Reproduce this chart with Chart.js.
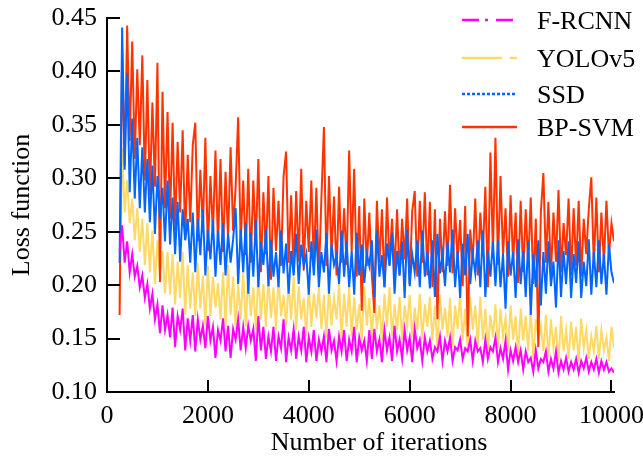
<!DOCTYPE html>
<html lang="en">
<head>
<meta charset="UTF-8">
<title>Loss function vs iterations</title>
<script src="https://cdn.jsdelivr.net/npm/chart.js"></script>
<style>
    html, body { margin: 0; padding: 0; background: #fff; }
    #wrap { position: relative; width: 643px; height: 461px; }
</style>
</head>
<body>
<div id="wrap"><canvas id="lossChart"></canvas></div>
<script>
// Sampling grid of the curves (iterations): 250 .. 10050 every 50
const iterStart = 250;
const iterStep = 50;
const iterCount = 197;
const iterations = Array.from({ length: iterCount }, (_, i) => iterStart + i * iterStep);

const seriesNames = ['F-RCNN', 'YOLOv5', 'SSD', 'BP-SVM'];
const xTicks = [0, 2000, 4000, 6000, 8000, 10000];
const yTicks = [0.10, 0.15, 0.20, 0.25, 0.30, 0.35, 0.40, 0.45];
const xTitle = 'Number of iterations';
const yTitle = 'Loss function';

const frcnn = [
    0.232, 0.256, 0.221, 0.241, 0.212, 0.229, 0.208, 0.218, 0.198, 0.209,
    0.188, 0.201, 0.178, 0.192, 0.168, 0.182, 0.155, 0.181, 0.158, 0.172,
    0.151, 0.179, 0.142, 0.171, 0.158, 0.178, 0.139, 0.169, 0.148, 0.172,
    0.138, 0.168, 0.149, 0.162, 0.141, 0.171, 0.148, 0.161, 0.132, 0.158,
    0.148, 0.169, 0.138, 0.162, 0.132, 0.159, 0.149, 0.168, 0.139, 0.161,
    0.141, 0.162, 0.148, 0.159, 0.129, 0.171, 0.139, 0.161, 0.131, 0.152,
    0.138, 0.161, 0.129, 0.152, 0.141, 0.168, 0.128, 0.151, 0.139, 0.159,
    0.131, 0.152, 0.139, 0.161, 0.128, 0.151, 0.138, 0.158, 0.129, 0.149,
    0.138, 0.152, 0.128, 0.159, 0.139, 0.148, 0.129, 0.152, 0.138, 0.158,
    0.129, 0.149, 0.138, 0.161, 0.128, 0.151, 0.139, 0.148, 0.129, 0.158,
    0.131, 0.159, 0.138, 0.149, 0.128, 0.158, 0.139, 0.151, 0.129, 0.162,
    0.138, 0.149, 0.131, 0.158, 0.139, 0.151, 0.128, 0.159, 0.141, 0.149,
    0.129, 0.151, 0.138, 0.148, 0.131, 0.142, 0.138, 0.152, 0.129, 0.148,
    0.138, 0.151, 0.129, 0.142, 0.139, 0.149, 0.131, 0.141, 0.138, 0.149,
    0.129, 0.148, 0.138, 0.141, 0.128, 0.149, 0.131, 0.142, 0.138, 0.151,
    0.128, 0.141, 0.131, 0.148, 0.121, 0.139, 0.129, 0.142, 0.128, 0.139,
    0.121, 0.138, 0.128, 0.132, 0.119, 0.139, 0.122, 0.131, 0.128, 0.138,
    0.119, 0.131, 0.122, 0.138, 0.118, 0.129, 0.121, 0.132, 0.119, 0.128,
    0.121, 0.131, 0.118, 0.129, 0.122, 0.132, 0.119, 0.128, 0.121, 0.131,
    0.118, 0.129, 0.121, 0.128, 0.119, 0.122, 0.118
];

const yolov5 = [
    0.182, 0.328, 0.268, 0.298, 0.258, 0.281, 0.242, 0.272, 0.231, 0.262,
    0.219, 0.258, 0.212, 0.251, 0.201, 0.242, 0.209, 0.232, 0.192, 0.231,
    0.191, 0.229, 0.182, 0.222, 0.188, 0.231, 0.172, 0.219, 0.178, 0.212,
    0.171, 0.221, 0.178, 0.209, 0.162, 0.218, 0.171, 0.208, 0.179, 0.202,
    0.168, 0.212, 0.161, 0.219, 0.172, 0.208, 0.159, 0.201, 0.168, 0.211,
    0.161, 0.209, 0.171, 0.198, 0.158, 0.212, 0.168, 0.201, 0.161, 0.208,
    0.169, 0.198, 0.158, 0.209, 0.171, 0.191, 0.162, 0.202, 0.168, 0.208,
    0.158, 0.199, 0.168, 0.188, 0.152, 0.201, 0.161, 0.192, 0.169, 0.198,
    0.159, 0.191, 0.151, 0.199, 0.162, 0.188, 0.168, 0.201, 0.149, 0.192,
    0.161, 0.198, 0.152, 0.189, 0.158, 0.182, 0.148, 0.199, 0.162, 0.188,
    0.151, 0.191, 0.159, 0.181, 0.148, 0.192, 0.161, 0.198, 0.152, 0.182,
    0.158, 0.189, 0.149, 0.181, 0.162, 0.191, 0.151, 0.179, 0.158, 0.192,
    0.149, 0.182, 0.161, 0.189, 0.148, 0.181, 0.141, 0.191, 0.158, 0.179,
    0.151, 0.188, 0.142, 0.181, 0.159, 0.192, 0.148, 0.178, 0.141, 0.189,
    0.158, 0.181, 0.142, 0.189, 0.149, 0.178, 0.139, 0.172, 0.151, 0.182,
    0.141, 0.178, 0.152, 0.169, 0.138, 0.181, 0.149, 0.171, 0.132, 0.178,
    0.148, 0.171, 0.139, 0.178, 0.131, 0.168, 0.149, 0.162, 0.138, 0.172,
    0.132, 0.168, 0.141, 0.161, 0.129, 0.171, 0.138, 0.158, 0.131, 0.166,
    0.139, 0.161, 0.128, 0.169, 0.141, 0.158, 0.131, 0.152, 0.138, 0.162,
    0.131, 0.158, 0.139, 0.151, 0.129, 0.161, 0.141
];

const ssd = [
    0.221, 0.441, 0.308, 0.398, 0.287, 0.356, 0.281, 0.338, 0.272, 0.329,
    0.268, 0.318, 0.259, 0.312, 0.248, 0.302, 0.262, 0.291, 0.241, 0.298,
    0.238, 0.282, 0.229, 0.278, 0.222, 0.271, 0.242, 0.262, 0.221, 0.268,
    0.212, 0.262, 0.228, 0.271, 0.209, 0.252, 0.224, 0.261, 0.208, 0.251,
    0.219, 0.258, 0.209, 0.248, 0.221, 0.243, 0.272, 0.201, 0.252, 0.212,
    0.258, 0.192, 0.249, 0.208, 0.261, 0.198, 0.241, 0.219, 0.252, 0.199,
    0.242, 0.208, 0.231, 0.198, 0.251, 0.211, 0.239, 0.192, 0.232, 0.209,
    0.248, 0.201, 0.238, 0.218, 0.229, 0.191, 0.241, 0.209, 0.252, 0.198,
    0.231, 0.212, 0.249, 0.192, 0.238, 0.219, 0.228, 0.201, 0.251, 0.208,
    0.241, 0.198, 0.232, 0.191, 0.249, 0.209, 0.238, 0.202, 0.229, 0.218,
    0.242, 0.189, 0.251, 0.208, 0.228, 0.198, 0.239, 0.218, 0.249, 0.192,
    0.232, 0.209, 0.241, 0.188, 0.252, 0.199, 0.229, 0.212, 0.242, 0.198,
    0.251, 0.208, 0.231, 0.197, 0.242, 0.189, 0.248, 0.211, 0.229, 0.199,
    0.241, 0.212, 0.252, 0.198, 0.232, 0.188, 0.239, 0.209, 0.248, 0.201,
    0.229, 0.211, 0.242, 0.198, 0.251, 0.189, 0.232, 0.208, 0.241, 0.199,
    0.242, 0.198, 0.229, 0.178, 0.241, 0.209, 0.231, 0.188, 0.243, 0.201,
    0.232, 0.189, 0.241, 0.172, 0.229, 0.198, 0.242, 0.181, 0.231, 0.192,
    0.241, 0.199, 0.222, 0.179, 0.242, 0.189, 0.232, 0.201, 0.241, 0.188,
    0.229, 0.202, 0.241, 0.188, 0.222, 0.199, 0.243, 0.191, 0.231, 0.198,
    0.242, 0.201, 0.229, 0.191, 0.238, 0.212, 0.202
];

const bpsvm = [
    0.172, 0.421, 0.312, 0.443, 0.335, 0.428, 0.318, 0.402, 0.331, 0.415,
    0.298, 0.392, 0.284, 0.371, 0.292, 0.408, 0.203, 0.381, 0.272, 0.362,
    0.262, 0.352, 0.251, 0.334, 0.268, 0.345, 0.243, 0.322, 0.259, 0.331,
    0.352, 0.241, 0.308, 0.252, 0.338, 0.232, 0.302, 0.248, 0.326, 0.238,
    0.318, 0.231, 0.306, 0.244, 0.329, 0.251, 0.292, 0.357, 0.239, 0.298,
    0.228, 0.309, 0.221, 0.298, 0.238, 0.318, 0.212, 0.287, 0.229, 0.302,
    0.205, 0.291, 0.232, 0.279, 0.218, 0.302, 0.325, 0.221, 0.284, 0.212,
    0.288, 0.222, 0.309, 0.214, 0.279, 0.231, 0.298, 0.219, 0.291, 0.208,
    0.281, 0.348, 0.218, 0.302, 0.228, 0.283, 0.209, 0.292, 0.221, 0.272,
    0.219, 0.326, 0.232, 0.309, 0.208, 0.274, 0.176, 0.281, 0.218, 0.268,
    0.209, 0.174, 0.279, 0.221, 0.271, 0.198, 0.282, 0.219, 0.262, 0.212,
    0.271, 0.209, 0.262, 0.224, 0.281, 0.201, 0.269, 0.288, 0.208, 0.279,
    0.221, 0.287, 0.209, 0.278, 0.198, 0.271, 0.168, 0.262, 0.212, 0.269,
    0.218, 0.294, 0.211, 0.272, 0.223, 0.261, 0.199, 0.274, 0.152, 0.252,
    0.221, 0.281, 0.209, 0.268, 0.228, 0.292, 0.198, 0.324, 0.231, 0.338,
    0.219, 0.302, 0.228, 0.272, 0.208, 0.284, 0.221, 0.268, 0.202, 0.279,
    0.212, 0.271, 0.219, 0.282, 0.201, 0.262, 0.142, 0.268, 0.305, 0.221,
    0.278, 0.209, 0.268, 0.222, 0.289, 0.212, 0.258, 0.228, 0.281, 0.209,
    0.272, 0.218, 0.279, 0.208, 0.262, 0.229, 0.271, 0.301, 0.219, 0.282,
    0.212, 0.268, 0.221, 0.279, 0.228, 0.258, 0.241
];

const FONT = '"Liberation Serif", "Times New Roman", serif';
const colors = ['#ff00ff', '#ffd966', '#0066ff', '#ff3300'];
const legendDash = [[17, 6, 3, 8], [40, 8, 9, 0], [3, 2], []];

function toPoints(values) {
    return values.map((v, i) => ({ x: iterations[i], y: v }));
}

// legend drawn on the canvas, lines with their dash pattern; also the x title,
// which sits right of the plot centre in the original
const legendPlugin = {
    id: 'dashLegend',
    afterDraw(chart) {
        const ctx = chart.ctx;
        const rows = [20, 58, 94, 127];
        ctx.save();
        ctx.font = '26px ' + FONT;
        ctx.fillStyle = '#000';
        ctx.textBaseline = 'middle';
        seriesNames.forEach((name, i) => {
            ctx.strokeStyle = colors[i];
            ctx.lineWidth = 2.5;
            ctx.setLineDash(legendDash[i]);
            ctx.beginPath();
            ctx.moveTo(462, rows[i]);
            ctx.lineTo(517, rows[i]);
            ctx.stroke();
            ctx.setLineDash([]);
            ctx.textAlign = 'left';
            ctx.fillText(name, 537, rows[i] + 2);
        });
        ctx.textAlign = 'center';
        ctx.fillText(xTitle, 379, 443);
        ctx.restore();
    }
};

// inward tick marks on both axes
const tickPlugin = {
    id: 'innerTicks',
    afterDraw(chart) {
        const ctx = chart.ctx;
        const xs = chart.scales.x, ys = chart.scales.y;
        const area = chart.chartArea;
        ctx.save();
        ctx.strokeStyle = '#000';
        ctx.lineWidth = 2;
        ctx.beginPath();
        xTicks.forEach(t => {
            const px = Math.round(xs.getPixelForValue(t));
            ctx.moveTo(px, area.bottom);
            ctx.lineTo(px, area.bottom - 12);
        });
        yTicks.forEach(t => {
            const py = Math.round(ys.getPixelForValue(t));
            ctx.moveTo(area.left, py);
            ctx.lineTo(area.left + 13, py);
        });
        ctx.stroke();
        ctx.restore();
    }
};

const seriesValues = [frcnn, yolov5, ssd, bpsvm];
const drawOrder = [0, 3, 1, 2];

new Chart(document.getElementById('lossChart'), {
    type: 'line',
    data: {
        datasets: seriesNames.map((name, i) => ({
            label: name,
            data: toPoints(seriesValues[i]),
            borderColor: colors[i],
            backgroundColor: colors[i],
            borderWidth: 2,
            pointRadius: 0,
            tension: 0,
            order: drawOrder[i]
        }))
    },
    options: {
        responsive: true,
        maintainAspectRatio: false,
        animation: false,
        layout: { padding: { top: 18, right: 29, left: 0, bottom: 0 } },
        plugins: {
            legend: { display: false },
            tooltip: { enabled: false }
        },
        scales: {
            x: {
                type: 'linear',
                min: 0,
                max: 10050,
                afterBuildTicks: s => { s.ticks = xTicks.map(v => ({ value: v })); },
                afterFit: s => { s.height = 69; s.paddingLeft = 0; s.paddingRight = 0; },
                grid: { display: false, drawTicks: false },
                border: { display: true, color: '#000', width: 2 },
                ticks: {
                    padding: 9,
                    color: '#000',
                    maxRotation: 0,
                    font: { family: FONT, size: 26 },
                    callback: v => String(v)
                },
                title: { display: false }
            },
            y: {
                min: 0.10,
                max: 0.45,
                afterBuildTicks: s => { s.ticks = yTicks.map(v => ({ value: v })); },
                afterFit: s => { s.width = 107; s.paddingTop = 0; s.paddingBottom = 0; },
                grid: { display: false, drawTicks: false },
                border: { display: true, color: '#000', width: 2 },
                ticks: {
                    padding: 10,
                    color: '#000',
                    font: { family: FONT, size: 26 },
                    callback: v => Number(v).toFixed(2)
                },
                title: {
                    display: true,
                    text: yTitle,
                    color: '#000',
                    padding: { top: 7, bottom: 0 },
                    font: { family: FONT, size: 26 }
                }
            }
        }
    },
    plugins: [legendPlugin, tickPlugin]
});
</script>
</body>
</html>
